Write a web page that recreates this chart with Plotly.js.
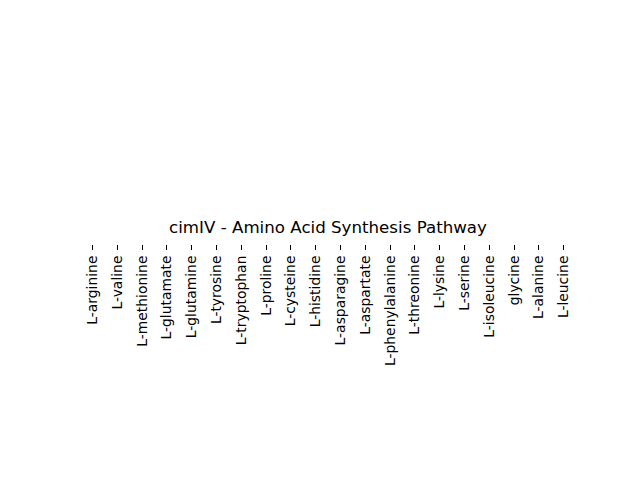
<!DOCTYPE html>
<html>
<head>
<meta charset="utf-8">
<script src="https://cdn.plot.ly/plotly-3.0.1.min.js"></script>
<style>html,body{margin:0;padding:0;background:#fff;}</style>
</head>
<body>
<div id="chart" style="width:640px;height:480px;"></div>
<script>
// Heatmap columns (amino acids); the heatmap has no rows, so no cell values.
const aminoAcids = ["L-arginine","L-valine","L-methionine","L-glutamate","L-glutamine","L-tyrosine","L-tryptophan","L-proline","L-cysteine","L-histidine","L-asparagine","L-aspartate","L-phenylalanine","L-threonine","L-lysine","L-serine","L-isoleucine","glycine","L-alanine","L-leucine"];
const rowLabels = [];
const zValues = [];
const chartTitle = "cimIV - Amino Acid Synthesis Pathway";

const tickIdx = aminoAcids.map((_, i) => i);

const trace = {
  type: "heatmap",
  x: tickIdx,
  y: rowLabels,
  z: zValues,
  showscale: false,
  hoverinfo: "skip"
};

const layout = {
  width: 640,
  height: 480,
  margin: {l: 80, r: 64, t: 243, b: 236, pad: 0},
  paper_bgcolor: "#ffffff",
  plot_bgcolor: "#ffffff",
  font: {family: "DejaVu Sans, sans-serif", color: "#000000", size: 13.9},
  title: {
    text: chartTitle,
    font: {family: "DejaVu Sans, sans-serif", size: 16.67, color: "#000000"},
    x: 0.5, xanchor: "center", xref: "paper",
    y: 1 - 227/480, yanchor: "middle", yref: "container"
  },
  xaxis: {
    range: [-0.5, aminoAcids.length - 0.5],
    tickmode: "array",
    tickvals: tickIdx,
    ticktext: aminoAcids,
    tickangle: -90,
    ticks: "outside",
    ticklen: 5,
    tickwidth: 1,
    tickcolor: "#000000",
    showgrid: false,
    zeroline: false,
    showline: false,
    fixedrange: true,
    tickfont: {family: "DejaVu Sans, sans-serif", size: 13.9, color: "#000000"}
  },
  yaxis: {
    visible: false,
    range: [0, 1],
    showgrid: false,
    zeroline: false,
    fixedrange: true
  },
  showlegend: false
};

Plotly.newPlot("chart", [trace], layout, {staticPlot: true, displayModeBar: false});
</script>
</body>
</html>
